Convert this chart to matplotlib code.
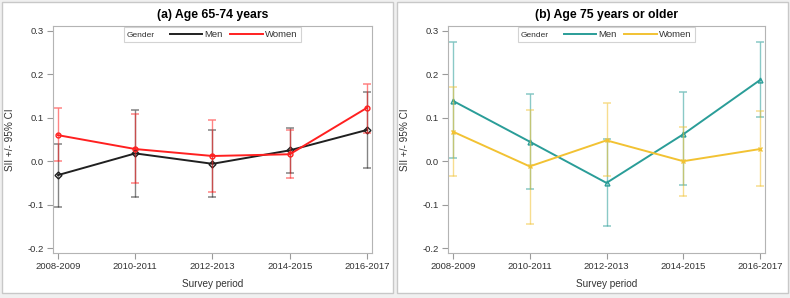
import numpy as np
import matplotlib
matplotlib.use("Agg")
import matplotlib.pyplot as plt
from matplotlib.patches import Rectangle
from matplotlib.legend_handler import HandlerBase
from matplotlib.text import Text
from matplotlib.lines import Line2D

plt.rcParams['font.family'] = ['Liberation Sans', 'DejaVu Sans']

periods = ["2008-2009", "2010-2011", "2012-2013", "2014-2015", "2016-2017"]

# (a) Age 65-74
a_men = [-0.032, 0.018, -0.006, 0.025, 0.072]
a_men_lo = [-0.105, -0.082, -0.082, -0.028, -0.015]
a_men_hi = [0.040, 0.119, 0.072, 0.077, 0.159]
a_women = [0.060, 0.028, 0.012, 0.016, 0.123]
a_women_lo = [0.000, -0.051, -0.072, -0.038, 0.064]
a_women_hi = [0.122, 0.108, 0.096, 0.073, 0.179]

# (b) Age 75+
b_men = [0.139, 0.045, -0.050, 0.062, 0.187]
b_men_lo = [0.008, -0.065, -0.149, -0.055, 0.101]
b_men_hi = [0.274, 0.155, 0.052, 0.159, 0.274]
b_women = [0.068, -0.012, 0.048, 0.000, 0.028]
b_women_lo = [-0.035, -0.144, -0.034, -0.080, -0.058]
b_women_hi = [0.170, 0.119, 0.133, 0.079, 0.115]


class TextHandler(HandlerBase):
    def create_artists(self, legend, orig_handle, xdescent, ydescent,
                       width, height, fontsize, trans):
        t = Text(-xdescent, 0, "Gender", fontsize=6,
                 va="baseline", ha="left", color="#333333",
                 family=['Liberation Sans', 'DejaVu Sans'])
        t.set_transform(trans)
        return [t]


fig = plt.figure(figsize=(7.9, 2.98), dpi=100, facecolor="#f0f0f0")
W, H = 790, 298


def fx(px):
    return px / W


def fy(py):
    return 1 - py / H


for x0, x1 in [(2, 393), (397, 788)]:
    fig.patches.append(Rectangle((fx(x0), fy(293)), fx(x1 - x0), (293 - 2) / H,
                                 transform=fig.transFigure, facecolor="white",
                                 edgecolor="#c8c8c8", lw=1, zorder=-5))

panels = [
    ("(a) Age 65-74 years", 53, 372,
     (a_men, a_men_lo, a_men_hi, "#202020", "D"),
     (a_women, a_women_lo, a_women_hi, "#ff2020", "o")),
    ("(b) Age 75 years or older", 448, 765,
     (b_men, b_men_lo, b_men_hi, "#2a9d98", "^"),
     (b_women, b_women_lo, b_women_hi, "#f2c233", "x")),
]

x = np.arange(len(periods))
for title, left, right, men, women in panels:
    ax = fig.add_axes([fx(left), fy(253), fx(right - left), (253 - 26) / H])
    handles = []
    for vals, lo, hi, col, mk in [men, women]:
        vals = np.array(vals)
        err = [vals - np.array(lo), np.array(hi) - vals]
        ax.errorbar(x, vals, yerr=err, fmt="none", ecolor=col, alpha=0.55,
                    elinewidth=1.0, capsize=3, capthick=1.1)
        ax.plot(x, vals, color=col, lw=1.4, marker=mk, ms=3.5,
                mfc="none", mew=1)
        handles.append(Line2D([], [], color=col, lw=1.4))
    ax.set_xlim(-0.065, 4.065)
    ax.set_ylim(-0.2115, 0.3115)
    ax.set_xticks(x)
    ax.set_xticklabels(periods)
    ax.set_yticks([-0.2, -0.1, 0.0, 0.1, 0.2, 0.3])
    ax.set_yticklabels(["-0.2", "-0.1", "0.0", "0.1", "0.2", "0.3"])
    for s in ax.spines.values():
        s.set_color("#b4b4b4")
    ax.tick_params(colors="#9a9a9a", labelcolor="#333333", labelsize=6.8,
                   length=4, width=0.8, pad=2.5)
    ax.set_xlabel("Survey period", fontsize=7.2, color="#333333", labelpad=6)
    ax.set_ylabel("SII +/- 95% CI", fontsize=7.2, color="#333333", labelpad=9)
    ax.set_title(title, fontsize=8.8, fontweight="bold", pad=6)
    blank = Line2D([], [])
    leg = ax.legend([blank] + handles, ["", "Men", "Women"],
                    handler_map={blank: TextHandler()},
                    loc="upper center", bbox_to_anchor=(0.5, 1.0), ncol=3,
                    fontsize=6.8, frameon=True, fancybox=False, handlelength=3.4,
                    handletextpad=0.3, columnspacing=0.8, borderpad=0.3,
                    borderaxespad=0.15)
    leg.get_frame().set_edgecolor("#c8c8c8")
    leg.get_frame().set_linewidth(0.8)
    for t in leg.get_texts():
        t.set_color("#333333")

fig.savefig("out.png", dpi=100, facecolor=fig.get_facecolor())
